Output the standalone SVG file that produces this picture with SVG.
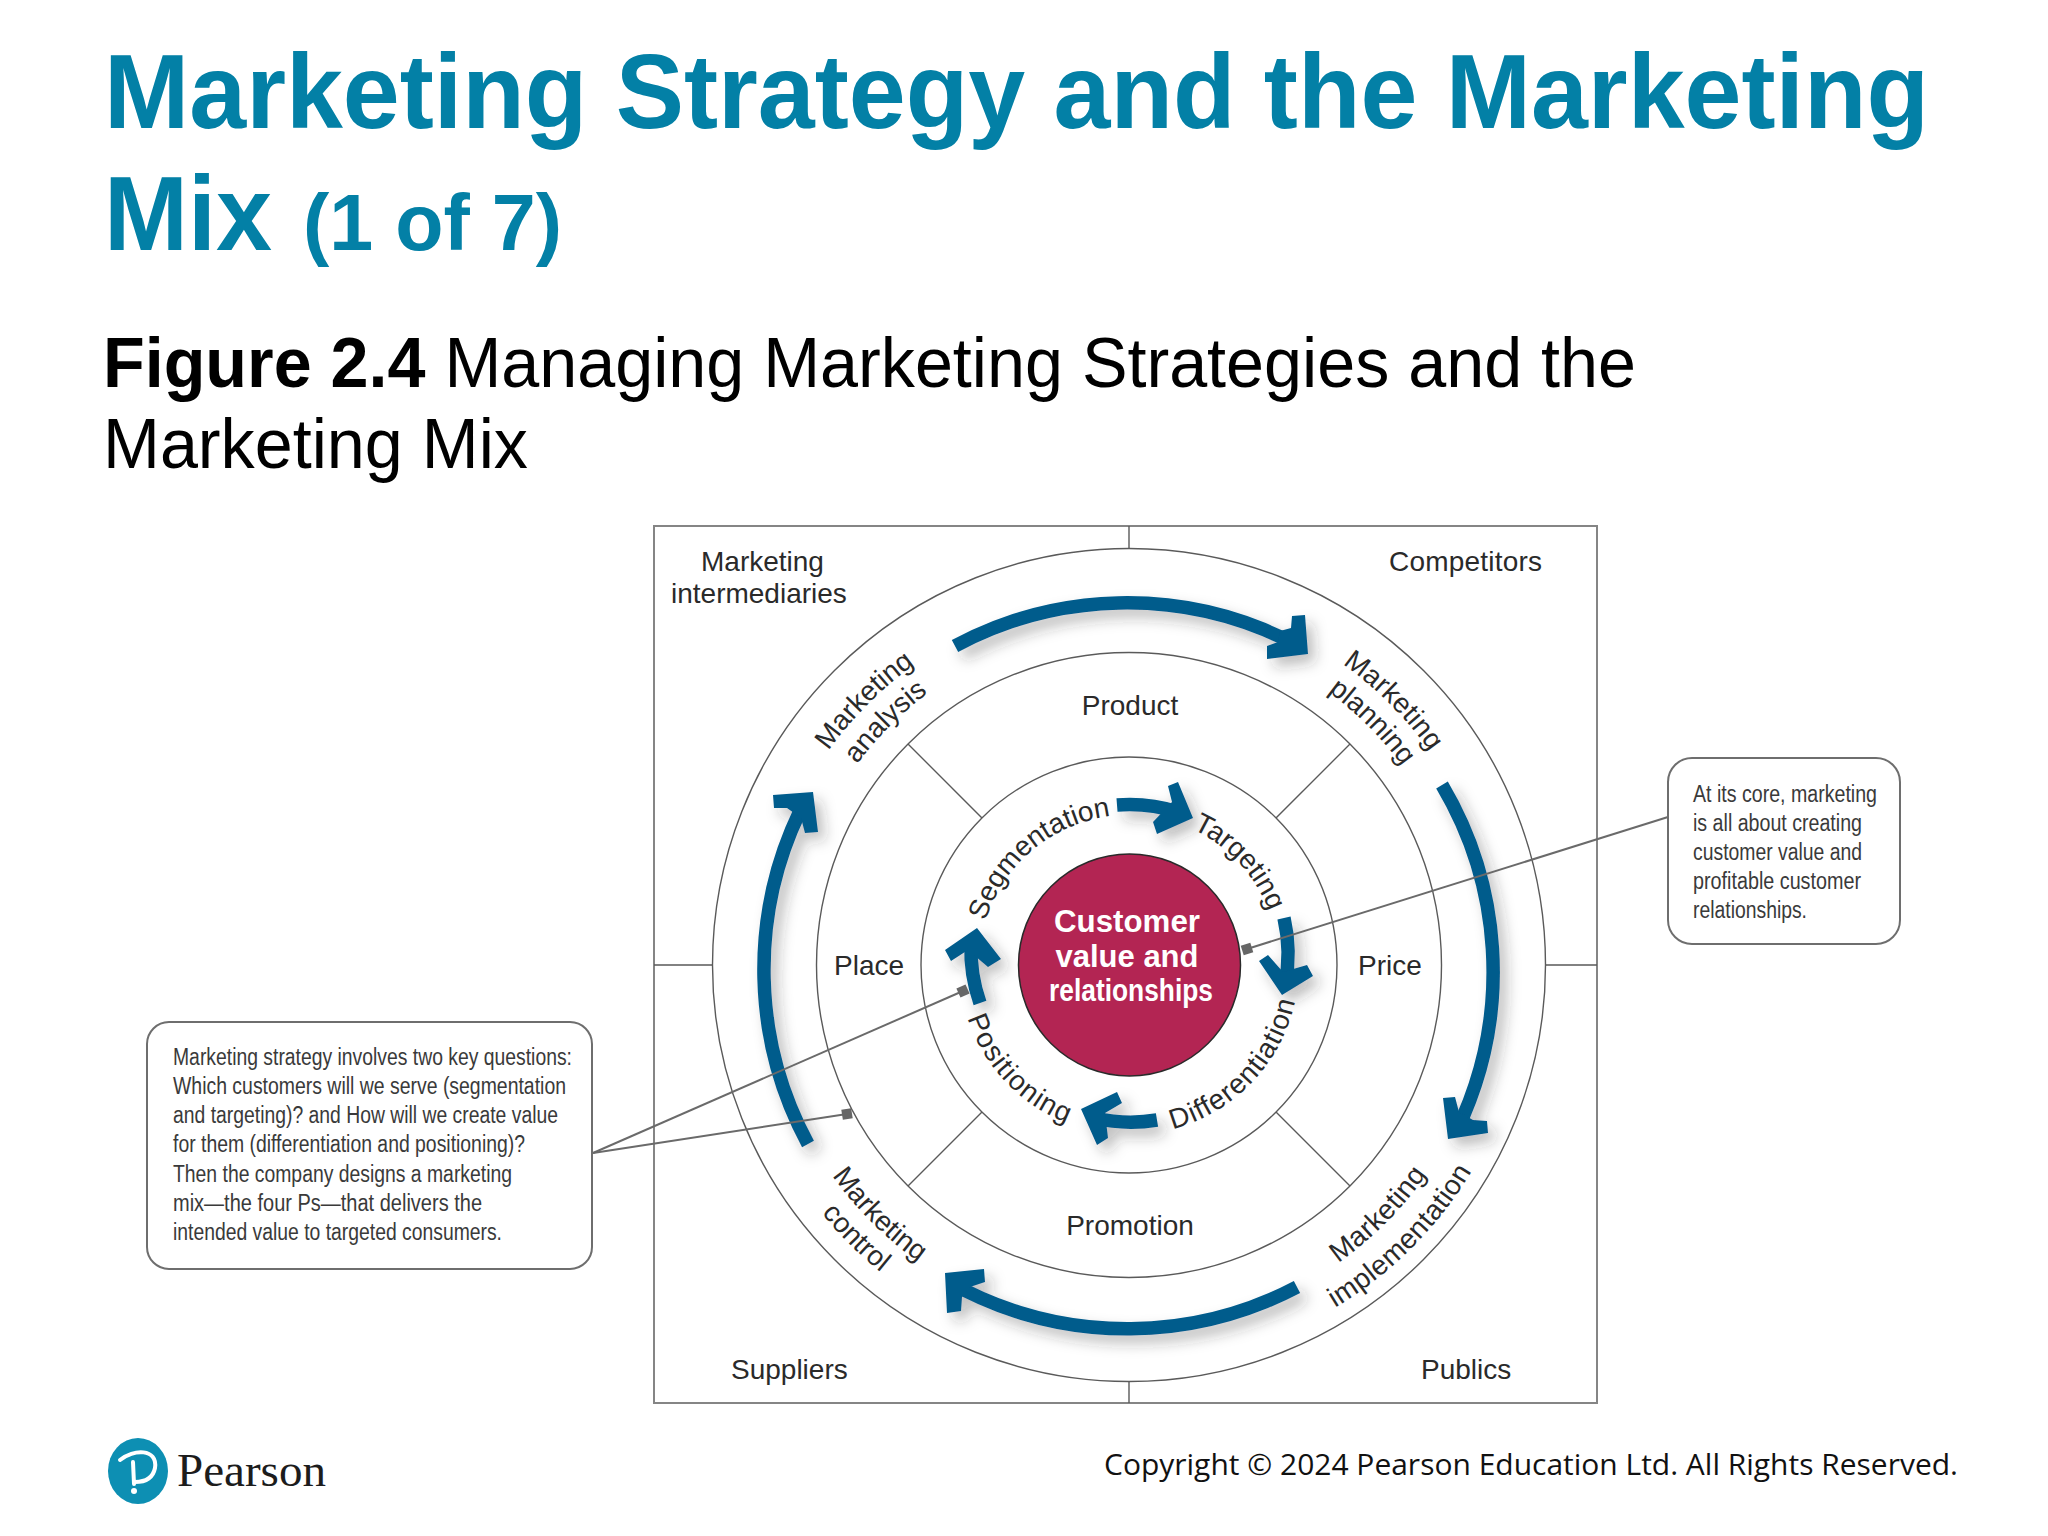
<svg xmlns="http://www.w3.org/2000/svg" xmlns:xlink="http://www.w3.org/1999/xlink" width="2048" height="1536" viewBox="0 0 2048 1536">
<style>
text{font-family:"Liberation Sans",Arial,sans-serif}
.title{font-weight:700;fill:#0380a6}
.sub{font-size:70px;fill:#000}
.ring{fill:none;stroke:#5a5a5a;stroke-width:1.4}
.frame{fill:none;stroke:#858585;stroke-width:2}
.div{fill:none;stroke:#5a5a5a;stroke-width:1.4}
.lbl{font-size:28px;fill:#2a2a2a}
.note{font-size:23.5px;fill:#3a3a3a}
.box{fill:#fff;stroke:#6e6e6e;stroke-width:2}
.bar{fill:none;stroke:#065b8c;stroke-width:13.500}
.head{fill:#065b8c}
.lead{fill:none;stroke:#6a6a6a;stroke-width:2}
.sq{fill:#666}
.core{font-weight:700;fill:#fff;font-size:31px;text-anchor:middle}
</style>
<defs>
<filter id="sh" x="-20%" y="-20%" width="150%" height="150%"><feDropShadow dx="7" dy="8" stdDeviation="7" flood-color="#333" flood-opacity=".3"/></filter>
<path id="t150" d="M979,965 A150 150 0 0 1 1279,965"/>
<path id="t338" d="M791,965 A338 338 0 0 1 1467,965"/>
<path id="t369" d="M760,965 A369 369 0 0 1 1498,965"/>
<path id="b170" d="M959,965 A170 170 0 0 0 1299,965"/>
<path id="b364" d="M765,965 A364 364 0 0 0 1493,965"/>
<path id="b395" d="M734,965 A395 395 0 0 0 1524,965"/>
<path id="b400" d="M729,965 A400 400 0 0 0 1529,965"/>
</defs>

<g id="title">
<text class="title" x="104" y="128" font-size="105" textLength="1825" lengthAdjust="spacingAndGlyphs">Marketing Strategy and the Marketing</text>
<text class="title" x="104" y="250" font-size="105" textLength="168" lengthAdjust="spacingAndGlyphs">Mix</text>
<text class="title" x="303" y="250" font-size="80" textLength="259" lengthAdjust="spacingAndGlyphs">(1 of 7)</text>
</g>
<g id="subtitle">
<text class="sub" x="103" y="387" textLength="1533" lengthAdjust="spacingAndGlyphs"><tspan font-weight="700">Figure 2.4</tspan> Managing Marketing Strategies and the</text>
<text class="sub" x="103" y="468" textLength="425" lengthAdjust="spacingAndGlyphs">Marketing Mix</text>
</g>

<g id="frame">
<rect class="frame" x="654" y="526" width="943" height="877"/>
<path class="div" d="M1129,526V548M1129,1382V1403M654,965H713M1545,965H1597"/>
</g>
<g id="rings">
<circle class="ring" cx="1129" cy="965" r="416.500"/>
<circle class="ring" cx="1129" cy="965" r="312.500"/>
<circle class="ring" cx="1129" cy="965" r="208"/>
<path class="div" d="M982,818L908,744M1276,818L1350,744M982,1112L908,1186M1276,1112L1350,1186"/>
</g>

<g id="arrows" filter="url(#sh)">
<path class="bar" d="M955,646 A364 364 0 0 1 1283,638"/>
<polygon class="head" points="1292,616 1305,615 1308,654 1267,659 1267,646 1278,642 1280,631 1291,628"/>
<path class="bar" d="M1442,785 A366 366 0 0 1 1463,1117"/>
<polygon class="head" points="1443,1098 1455,1097 1459,1112 1473,1120 1487,1121 1488,1133 1448,1139"/>
<path class="bar" d="M1297,1287 A364 364 0 0 1 964,1290"/>
<polygon class="head" points="945,1273 984,1269 985,1282 970,1287 962,1297 961,1311 947,1313"/>
<path class="bar" d="M808,1144 A367 367 0 0 1 800,811"/>
<polygon class="head" points="773,795 813,792 818,832 805,833 801,818 787,808 774,808"/>
<path class="bar" d="M1117,805 A160 160 0 0 1 1178,812"/>
<polygon class="head" points="1178,782 1168,786 1172,802 1153,822 1157,834 1193,818"/>
<path class="bar" d="M1284,918 A160 160 0 0 1 1285,985"/>
<polygon class="head" points="1259,961 1268,955 1283,972 1307,965 1313,976 1282,995"/>
<path class="bar" d="M1157,1120 A158 158 0 0 1 1095,1118"/>
<polygon class="head" points="1081,1109 1117,1092 1122,1103 1105,1113 1108,1138 1097,1145"/>
<path class="bar" d="M980,1003 A160 160 0 0 1 971,945"/>
<polygon class="head" points="945,950 951,961 968,950 988,967 1001,959 977,928"/>
</g>

<g id="core">
<circle cx="1129.500" cy="965" r="111" fill="#b32553" stroke="#2a2a2a" stroke-width="1.500"/>
<text class="core" x="1127" y="932" textLength="146" lengthAdjust="spacingAndGlyphs">Customer</text>
<text class="core" x="1127" y="967" textLength="143" lengthAdjust="spacingAndGlyphs">value and</text>
<text class="core" x="1131" y="1001" textLength="164" lengthAdjust="spacingAndGlyphs">relationships</text>
</g>

<g id="env-labels">
<text class="lbl" x="701" y="571">Marketing</text>
<text class="lbl" x="671" y="603">intermediaries</text>
<text class="lbl" x="1389" y="571" letter-spacing=".2">Competitors</text>
<text class="lbl" x="731" y="1379">Suppliers</text>
<text class="lbl" x="1421" y="1379">Publics</text>
</g>
<g id="mix-labels">
<text class="lbl" x="1130" y="715" text-anchor="middle">Product</text>
<text class="lbl" x="834" y="975">Place</text>
<text class="lbl" x="1358" y="975">Price</text>
<text class="lbl" x="1130" y="1235" text-anchor="middle">Promotion</text>
</g>
<g id="process-labels">
<g transform="rotate(-45 1129 965)"><text class="lbl"><textPath xlink:href="#t369" href="#t369" startOffset="50%" text-anchor="middle">Marketing</textPath></text><text class="lbl"><textPath xlink:href="#t338" href="#t338" startOffset="50%" text-anchor="middle">analysis</textPath></text></g>
<g transform="rotate(45 1129 965)"><text class="lbl" letter-spacing=".2"><textPath xlink:href="#t369" href="#t369" startOffset="50%" text-anchor="middle">Marketing</textPath></text><text class="lbl"><textPath xlink:href="#t338" href="#t338" startOffset="50%" text-anchor="middle">planning</textPath></text></g>
<g transform="rotate(-45 1129 965)"><text class="lbl" letter-spacing=".4"><textPath xlink:href="#b364" href="#b364" startOffset="50%" text-anchor="middle">Marketing</textPath></text><text class="lbl" letter-spacing=".4"><textPath xlink:href="#b400" href="#b400" startOffset="50%" text-anchor="middle">implementation</textPath></text></g>
<g transform="rotate(45 1129 965)"><text class="lbl"><textPath xlink:href="#b364" href="#b364" startOffset="50%" text-anchor="middle">Marketing</textPath></text><text class="lbl"><textPath xlink:href="#b395" href="#b395" startOffset="50%" text-anchor="middle">control</textPath></text></g>
</g>
<g id="stp-labels">
<g transform="rotate(-40 1129 965)"><text class="lbl"><textPath xlink:href="#t150" href="#t150" startOffset="50%" text-anchor="middle">Segmentation</textPath></text></g>
<g transform="rotate(47 1129 965)"><text class="lbl"><textPath xlink:href="#t150" href="#t150" startOffset="50%" text-anchor="middle">Targeting</textPath></text></g>
<g transform="rotate(-46.500 1129 965)"><text class="lbl" letter-spacing="1"><textPath xlink:href="#b170" href="#b170" startOffset="50%" text-anchor="middle">Differentiation</textPath></text></g>
<g transform="rotate(46.500 1129 965)"><text class="lbl" letter-spacing="1.200"><textPath xlink:href="#b170" href="#b170" startOffset="50%" text-anchor="middle">Positioning</textPath></text></g>
</g>

<g id="connectors">
<path class="lead" d="M1668,817L1247,949"/>
<path class="lead" d="M593,1153L963,991"/>
<path class="lead" d="M593,1153L847,1114"/>
<rect class="sq" x="1242" y="944" width="10" height="10" transform="rotate(-17 1247 949)"/>
<rect class="sq" x="958" y="986" width="10" height="10" transform="rotate(-24 963 991)"/>
<rect class="sq" x="842" y="1109" width="10" height="10" transform="rotate(-9 847 1114)"/>
</g>

<g id="note-left">
<rect class="box" x="147" y="1022" width="445" height="247" rx="22"/>
<text class="note" x="173" y="1065" textLength="399" lengthAdjust="spacingAndGlyphs">Marketing strategy involves two key questions:</text>
<text class="note" x="173" y="1094" textLength="393" lengthAdjust="spacingAndGlyphs">Which customers will we serve (segmentation</text>
<text class="note" x="173" y="1123" textLength="385" lengthAdjust="spacingAndGlyphs">and targeting)? and How will we create value</text>
<text class="note" x="173" y="1152" textLength="352" lengthAdjust="spacingAndGlyphs">for them (differentiation and positioning)?</text>
<text class="note" x="173" y="1182" textLength="339" lengthAdjust="spacingAndGlyphs">Then the company designs a marketing</text>
<text class="note" x="173" y="1211" textLength="309" lengthAdjust="spacingAndGlyphs">mix—the four Ps—that delivers the</text>
<text class="note" x="173" y="1240" textLength="329" lengthAdjust="spacingAndGlyphs">intended value to targeted consumers.</text>
</g>
<g id="note-right">
<rect class="box" x="1668" y="758" width="232" height="186" rx="24"/>
<text class="note" x="1693" y="802" textLength="184" lengthAdjust="spacingAndGlyphs">At its core, marketing</text>
<text class="note" x="1693" y="831" textLength="169" lengthAdjust="spacingAndGlyphs">is all about creating</text>
<text class="note" x="1693" y="860" textLength="169" lengthAdjust="spacingAndGlyphs">customer value and</text>
<text class="note" x="1693" y="889" textLength="168" lengthAdjust="spacingAndGlyphs">profitable customer</text>
<text class="note" x="1693" y="918" textLength="114" lengthAdjust="spacingAndGlyphs">relationships.</text>
</g>

<g id="logo">
<ellipse cx="138" cy="1471" rx="30" ry="33" fill="#0d8fb3"/>
<path d="M120,1460C133,1449 158,1448 155,1468C153,1478 145,1482 135,1482M133,1462L134,1484" fill="none" stroke="#fff" stroke-width="4" stroke-linecap="round"/>
<circle cx="134" cy="1491" r="3" fill="#fff"/>
<text x="177" y="1486" font-size="46" fill="#1c1c1c" textLength="149" lengthAdjust="spacingAndGlyphs" style="font-family:'Liberation Serif',serif">Pearson</text>
</g>
<text id="copyright" x="1104" y="1475" font-size="30" fill="#111" textLength="854" lengthAdjust="spacingAndGlyphs" style="font-family:'Open Sans',sans-serif">Copyright © 2024 Pearson Education Ltd. All Rights Reserved.</text>
</svg>
